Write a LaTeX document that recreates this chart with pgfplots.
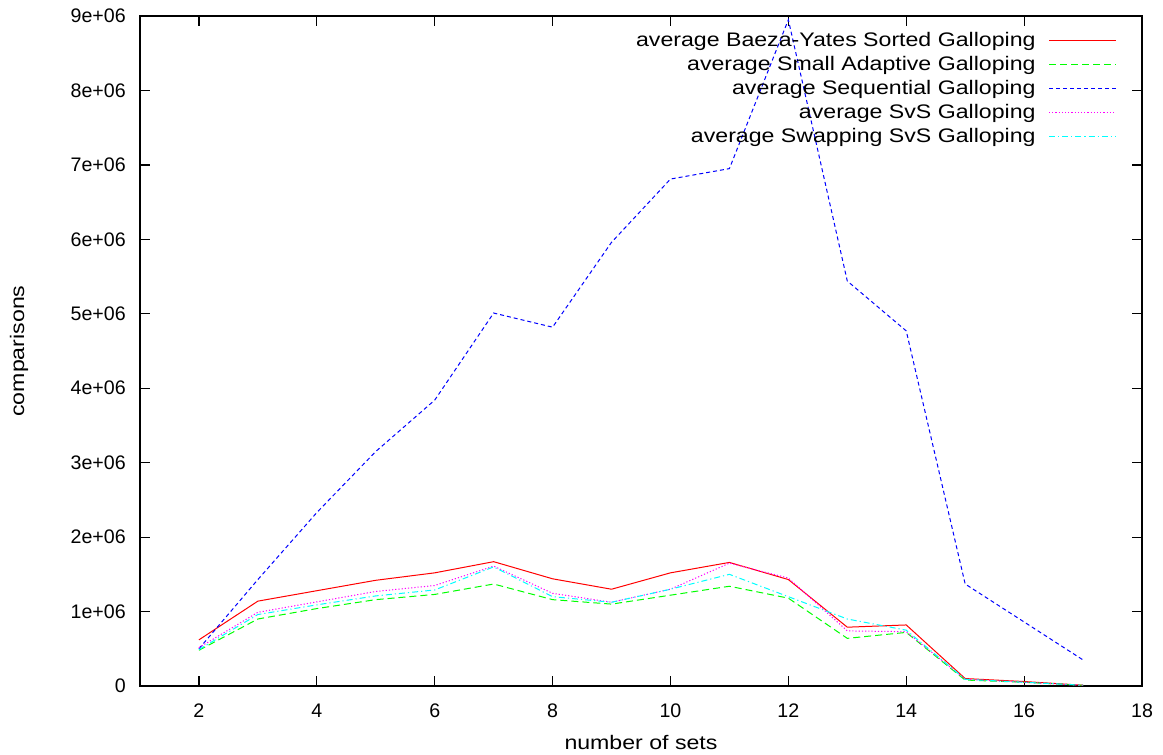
\documentclass[border=0pt]{standalone}
\usepackage{pgfplots}
\pgfplotsset{compat=1.18}
\usepackage{fontspec}
\setmainfont{Liberation Sans}
\newfontfamily\widefont[FakeStretch=1.18]{Liberation Sans}
\definecolor{gpred}{RGB}{255,0,0}
\definecolor{gpgreen}{RGB}{0,255,0}
\definecolor{gpblue}{RGB}{0,0,255}
\definecolor{gpmagenta}{RGB}{255,0,255}
\definecolor{gpcyan}{RGB}{0,255,255}
\begin{document}
\fontsize{9.8}{11.5}\selectfont
\begin{tikzpicture}
\path[use as bounding box] (-70pt,-34.5pt) rectangle (511.5pt,343pt);
\begin{axis}[
  at={(0pt,0pt)}, anchor=south west,
  scale only axis, width=501pt, height=335pt,
  xmin=1, xmax=18, ymin=0, ymax=9000000,
  xtick={2,4,...,18},
  ytick={0,1000000,2000000,3000000,4000000,5000000,6000000,7000000,8000000,9000000},
  yticklabels={0,1e+06,2e+06,3e+06,4e+06,5e+06,6e+06,7e+06,8e+06,9e+06},
  scaled y ticks=false,
  /pgf/number format/assume math mode=true,
  tick style={black, line width=0.6pt},
  major tick length=5pt,
  tick align=inside,
  xtick pos=both, ytick pos=both,
  axis line style={line width=1pt},
  xticklabel shift=5.6pt,
  yticklabel shift=3.7pt,
  ticklabel style={font=\fontsize{9.8}{11.5}\selectfont},
  xlabel={number of sets},
  ylabel={comparisons},
  label style={font=\widefont\fontsize{9.8}{11.5}\selectfont},
  xlabel style={at={(axis description cs:0.5,-0.0836)}, anchor=center},
  ylabel style={at={(axis description cs:-0.1208,0.5)}, anchor=center},
  legend style={draw=none, fill=none, at={(rel axis cs:0.975,0.9827)}, anchor=north east,
    inner sep=0pt, row sep=0pt, column sep=5.5pt,
    nodes={text height=8pt, text depth=2pt, inner sep=1pt},
    font=\widefont\fontsize{9.8}{11.5}\selectfont},
  legend cell align=right,
  legend plot pos=right,
  legend image code/.code={\draw[#1] (0pt,0pt) -- (33.5pt,0pt);},
  every axis plot/.append style={line width=0.5pt},
]
\addplot[draw=gpred, solid] coordinates {
(2,620000)(3,1140000)(4,1280000)(5,1420000)(6,1520000)(7,1670000)(8,1440000)(9,1300000)
(10,1520000)(11,1660000)(12,1430000)(13,790000)(14,820000)(15,100000)(16,60000)(17,10000)};
\addlegendentry{average Baeza-Yates Sorted Galloping}
\addplot[draw=gpgreen, dash pattern=on 3.5pt off 2pt] coordinates {
(2,480000)(3,900000)(4,1040000)(5,1160000)(6,1230000)(7,1370000)(8,1160000)(9,1100000)
(10,1220000)(11,1340000)(12,1180000)(13,640000)(14,720000)(15,80000)(16,50000)(17,10000)};
\addlegendentry{average Small Adaptive Galloping}
\addplot[draw=gpblue, dash pattern=on 2pt off 1.5pt] coordinates {
(2,500000)(3,1430000)(4,2330000)(5,3150000)(6,3840000)(7,5010000)(8,4820000)(9,5960000)
(10,6810000)(11,6950000)(12,8950000)(13,5440000)(14,4770000)(15,1370000)(16,860000)(17,350000)};
\addlegendentry{average Sequential Galloping}
\addplot[draw=gpmagenta, dash pattern=on 0.6pt off 1pt] coordinates {
(2,515000)(3,990000)(4,1130000)(5,1270000)(6,1350000)(7,1610000)(8,1245000)(9,1125000)
(10,1300000)(11,1650000)(12,1450000)(13,740000)(14,730000)(15,90000)(16,50000)(17,10000)};
\addlegendentry{average SvS Galloping}
\addplot[draw=gpcyan, dash pattern=on 3pt off 1.5pt on 0.6pt off 1.5pt] coordinates {
(2,490000)(3,960000)(4,1090000)(5,1210000)(6,1290000)(7,1600000)(8,1200000)(9,1125000)
(10,1300000)(11,1500000)(12,1200000)(13,900000)(14,750000)(15,90000)(16,50000)(17,10000)};
\addlegendentry{average Swapping SvS Galloping}
\end{axis}
\end{tikzpicture}
\end{document}
